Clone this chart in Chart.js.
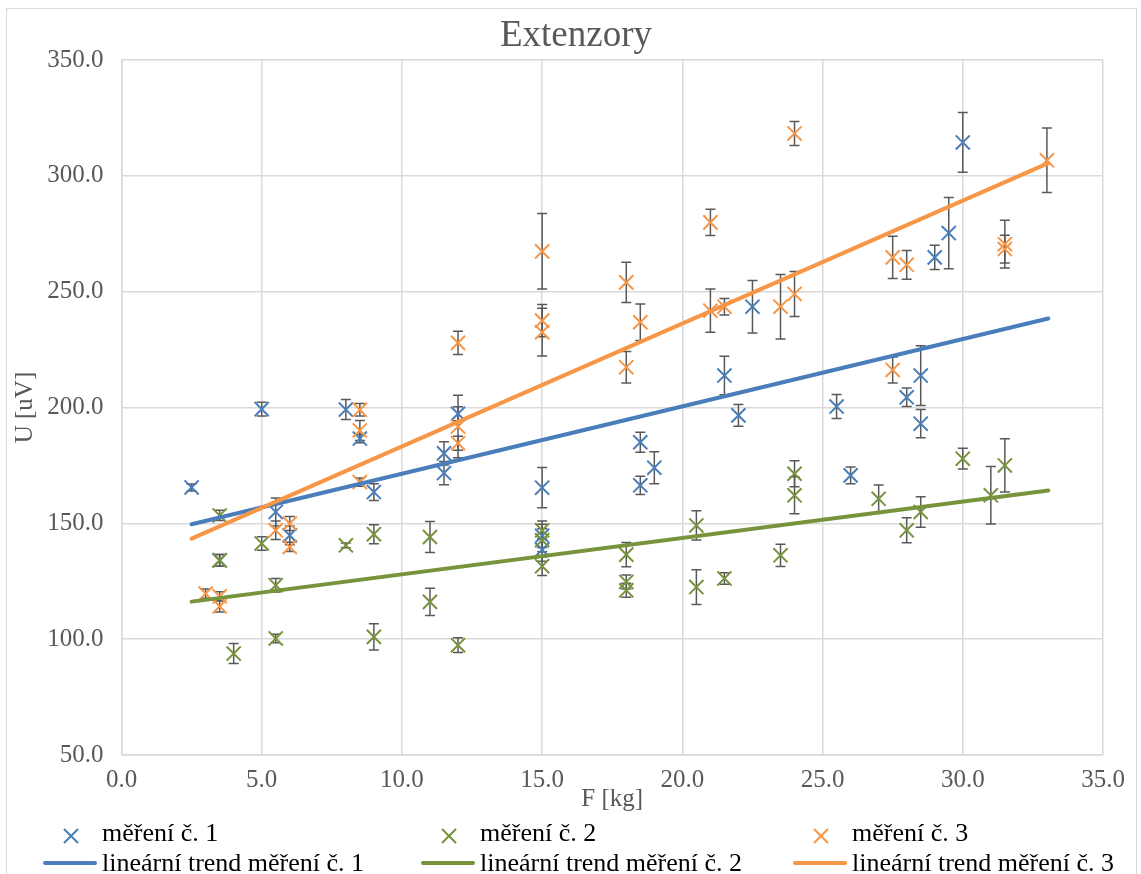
<!DOCTYPE html>
<html>
<head>
<meta charset="utf-8">
<title>Extenzory</title>
<script src="https://cdn.jsdelivr.net/npm/chart.js@4.4.1/dist/chart.umd.min.js"></script>
<style>
  html, body { margin: 0; padding: 0; background: #fff; }
  #wrap { position: relative; width: 1141px; height: 874px; overflow: hidden; background: #fff; }
  #frame { position: absolute; left: 6px; top: 8px; width: 1131px; height: 900px; border: 1.5px solid #d9d9d9; box-sizing: border-box; pointer-events: none; }
  #c { position: absolute; left: 0; top: 0; }
  #legend { position: absolute; left: 0; top: 818px; width: 1141px; height: 60px;
            font-family: 'Liberation Serif', 'Times New Roman', serif; font-size: 26px; color: #000; }
  .item { position: absolute; height: 30px; line-height: 30px; display: flex; align-items: center; white-space: nowrap; }
  .item svg { flex: none; margin-right: 5px; }
</style>
</head>
<body>
<div id="wrap">
  <canvas id="c" width="1141" height="874"></canvas>
  <div id="frame"></div>
  <div id="legend"></div>
</div>
<script>
const chartTitle = "Extenzory";

// series labels
const seriesLabels = ["měření č. 1", "měření č. 2", "měření č. 3"];
const trendLabels = ["lineární trend měření č. 1", "lineární trend měření č. 2", "lineární trend měření č. 3"];

// měření č. 1
const x1 = [2.5, 3.5, 5, 5.5, 6, 8, 8.5, 9, 11.5, 11.5, 12, 15, 15, 15, 18.5, 18.5, 19, 21.5, 22, 22.5, 25.5, 26, 28, 28.5, 28.5, 29, 29.5, 30];
const y1 = [165.5, 134.0, 199.3, 154.9, 144.8, 199.1, 186.6, 163.5, 180.2, 171.7, 197.3, 165.4, 144.6, 138.6, 185.0, 166.4, 174.0, 213.8, 196.6, 243.5, 200.4, 170.7, 204.4, 213.8, 193.0, 264.8, 275.3, 314.4];
const e1 = [1.5, 2.5, 3.0, 6.0, 4.0, 4.3, 1.8, 3.6, 5.0, 5.0, 3.0, 8.7, 5.0, 5.0, 4.3, 3.9, 6.9, 8.3, 4.7, 11.3, 5.2, 3.6, 4.0, 12.9, 6.1, 5.2, 15.4, 12.9];

// měření č. 2
const x2 = [3.5, 3.5, 4, 5, 5.5, 5.5, 8, 9, 9, 11, 11, 12, 15, 15, 15, 18, 18, 18, 20.5, 20.5, 21.5, 23.5, 24, 24, 27, 28, 28.5, 30, 31, 31.5];
const y2 = [153.4, 134.0, 93.8, 141.3, 123.3, 100.3, 140.5, 145.3, 101.0, 144.1, 116.1, 97.4, 147.0, 142.7, 131.5, 136.5, 124.7, 121.1, 149.1, 122.5, 126.2, 136.2, 171.4, 162.1, 160.6, 147.0, 154.9, 177.9, 162.1, 175.0];
const e2 = [2.2, 2.5, 4.3, 2.9, 2.9, 1.8, 1.0, 4.1, 5.7, 6.7, 5.9, 3.2, 4.0, 5.0, 4.0, 5.2, 3.0, 3.0, 6.3, 7.5, 2.5, 4.8, 5.6, 8.0, 6.0, 5.4, 6.6, 4.5, 12.4, 11.5];

// měření č. 3
const x3 = [3, 3.5, 3.5, 5.5, 6, 6, 8.5, 8.5, 8.5, 12, 12, 12, 15, 15, 15, 18, 18, 18.5, 21, 21, 21.5, 23.5, 24, 24, 27.5, 27.5, 28, 31.5, 31.5, 33];
const y3 = [119.7, 118.5, 114.2, 147.0, 149.9, 139.8, 199.0, 190.1, 167.8, 227.9, 191.8, 184.6, 267.4, 237.5, 232.5, 254.0, 217.4, 236.8, 279.9, 241.8, 243.5, 243.5, 318.3, 249.0, 264.8, 216.2, 261.6, 270.5, 268.4, 306.7];
const e3 = [2.0, 2.0, 2.5, 4.0, 3.0, 2.0, 2.7, 4.3, 1.8, 5.0, 13.5, 3.0, 16.3, 7.0, 10.3, 8.7, 6.8, 7.9, 5.7, 9.3, 3.6, 13.9, 5.2, 9.7, 9.1, 5.6, 6.2, 10.3, 6.0, 13.9];

// trend line ends
const trendX = [2.5, 33.05];
const trend1 = [149.6, 238.4];
const trend2 = [116.2, 164.2];
const trend3 = [143.4, 305.5];

// axis ticks
const xTicks = [0, 5, 10, 15, 20, 25, 30, 35];
const yTicks = [50, 100, 150, 200, 250, 300, 350];

const colors = ["#4a7ebb", "#77933c", "#f79646"];
const FONT = "'Liberation Serif', 'Times New Roman', serif";

function pts(xs, ys) { return xs.map((x, i) => ({ x: x, y: ys[i] })); }

function markerSet(i, xs, ys, errs, order) {
  return {
    label: seriesLabels[i], data: pts(xs, ys), errorBars: errs,
    showLine: false, pointStyle: "crossRot", pointRadius: 10, pointHoverRadius: 10,
    borderColor: colors[i], backgroundColor: colors[i], pointBorderWidth: 2, order: order
  };
}
function trendSet(i, ys, order) {
  return {
    label: trendLabels[i], data: pts(trendX, ys), showLine: true, pointRadius: 0,
    borderColor: colors[i], borderWidth: 4, borderCapStyle: "round", order: order
  };
}

// error bars are drawn under the markers
const errorBarPlugin = {
  id: "errorBars",
  beforeDatasetsDraw(chart) {
    const ctx = chart.ctx, xs = chart.scales.x, ys = chart.scales.y;
    ctx.save();
    ctx.strokeStyle = "#595959";
    ctx.lineWidth = 1.5;
    chart.data.datasets.forEach(ds => {
      if (!ds.errorBars) return;
      ds.data.forEach((p, i) => {
        const e = ds.errorBars[i];
        const px = xs.getPixelForValue(p.x);
        const top = ys.getPixelForValue(p.y + e), bot = ys.getPixelForValue(p.y - e);
        ctx.beginPath();
        ctx.moveTo(px, top); ctx.lineTo(px, bot);
        ctx.moveTo(px - 5, top); ctx.lineTo(px + 5, top);
        ctx.moveTo(px - 5, bot); ctx.lineTo(px + 5, bot);
        ctx.stroke();
      });
    });
    ctx.restore();
  }
};

// title centred on the whole frame, not on the plot area
const titlePlugin = {
  id: "frameTitle",
  afterDraw(chart) {
    const ctx = chart.ctx;
    ctx.save();
    ctx.font = "37px " + FONT;
    ctx.fillStyle = "#595959";
    ctx.textAlign = "center";
    ctx.textBaseline = "middle";
    ctx.fillText(chartTitle, 576, 36);
    ctx.restore();
  }
};

const chart = new Chart(document.getElementById("c"), {
  type: "scatter",
  data: {
    datasets: [
      trendSet(2, trend3, 0),
      trendSet(1, trend2, 1),
      trendSet(0, trend1, 2),
      markerSet(2, x3, y3, e3, 3),
      markerSet(1, x2, y2, e2, 4),
      markerSet(0, x1, y1, e1, 5)
    ]
  },
  options: {
    responsive: false,
    animation: false,
    events: [],
    layout: { padding: { left: 0, top: 60, right: 38, bottom: 59 } },
    plugins: {
      legend: { display: false },
      tooltip: { enabled: false },
      title: { display: false }
    },
    scales: {
      x: {
        type: "linear", min: xTicks[0], max: xTicks[xTicks.length - 1],
        afterBuildTicks: s => { s.ticks = xTicks.map(v => ({ value: v })); },
        afterFit: s => { s.height = 60; },
        ticks: { callback: v => v.toFixed(1), color: "#595959", font: { family: FONT, size: 25 }, padding: 10, maxRotation: 0 },
        grid: { color: "#d9d9d9", lineWidth: 1.5, drawTicks: false },
        border: { color: "#d9d9d9", width: 1.5 },
        title: { display: true, text: "F [kg]", color: "#595959", font: { family: FONT, size: 25 }, padding: { top: 0, bottom: 1 } }
      },
      y: {
        type: "linear", min: yTicks[0], max: yTicks[yTicks.length - 1],
        afterBuildTicks: s => { s.ticks = yTicks.map(v => ({ value: v })); },
        afterFit: s => { s.width = 121.5; },
        ticks: { callback: v => v.toFixed(1), color: "#595959", font: { family: FONT, size: 25 }, padding: 18 },
        grid: { color: "#d9d9d9", lineWidth: 1.5, drawTicks: false },
        border: { color: "#d9d9d9", width: 1.5 },
        title: { display: true, text: "U [uV]", color: "#595959", font: { family: FONT, size: 25 }, padding: { top: 10, bottom: 0 } }
      }
    }
  },
  plugins: [errorBarPlugin, titlePlugin]
});

// legend: 3 columns, markers on row 1, trend lines on row 2
(function () {
  const legend = document.getElementById("legend");
  const colX = [43, 421, 793];
  function add(row, col, svg, text) {
    const d = document.createElement("div");
    d.className = "item";
    d.style.left = colX[col] + "px";
    d.style.top = (row * 30) + "px";
    d.innerHTML = svg;
    const s = document.createElement("span");
    s.textContent = text;
    d.appendChild(s);
    legend.appendChild(d);
  }
  for (let i = 0; i < 3; i++) {
    const c = colors[i];
    add(0, i, `<svg width="54" height="30"><path d="M21 11 L35 25 M35 11 L21 25" stroke="${c}" stroke-width="2" fill="none"/></svg>`, seriesLabels[i]);
    add(1, i, `<svg width="54" height="30"><line x1="2" y1="15" x2="52" y2="15" stroke="${c}" stroke-width="4" stroke-linecap="round"/></svg>`, trendLabels[i]);
  }
})();
</script>
</body>
</html>
